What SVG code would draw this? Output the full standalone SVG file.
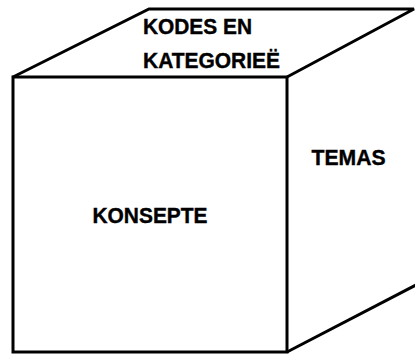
<svg xmlns="http://www.w3.org/2000/svg" width="415" height="356" viewBox="0 0 415 356">
<style>
.edge{fill:none;stroke:#000;stroke-width:3;stroke-linejoin:miter;stroke-linecap:butt}
.lbl{font-family:"Liberation Sans",Arial,sans-serif;font-weight:bold;font-size:22px;fill:#000;stroke:#000;stroke-width:0.4}
</style>
<rect width="415" height="356" fill="#fff"/>
<g id="top-face">
<polyline class="edge" points="13,77 149,9 414,9 287,77"/>
<text class="lbl" x="143" y="34" textLength="109" lengthAdjust="spacingAndGlyphs">KODES EN</text>
<text class="lbl" x="143" y="68" textLength="137" lengthAdjust="spacingAndGlyphs">KATEGORIEË</text>
</g>
<g id="front-face">
<rect class="edge" x="13" y="77" width="274" height="275"/>
<text class="lbl" x="92.5" y="223" textLength="115" lengthAdjust="spacingAndGlyphs">KONSEPTE</text>
</g>
<g id="right-face">
<line class="edge" x1="287" y1="352" x2="416" y2="285"/>
<text class="lbl" x="311.5" y="165" textLength="74" lengthAdjust="spacingAndGlyphs">TEMAS</text>
</g>
</svg>
